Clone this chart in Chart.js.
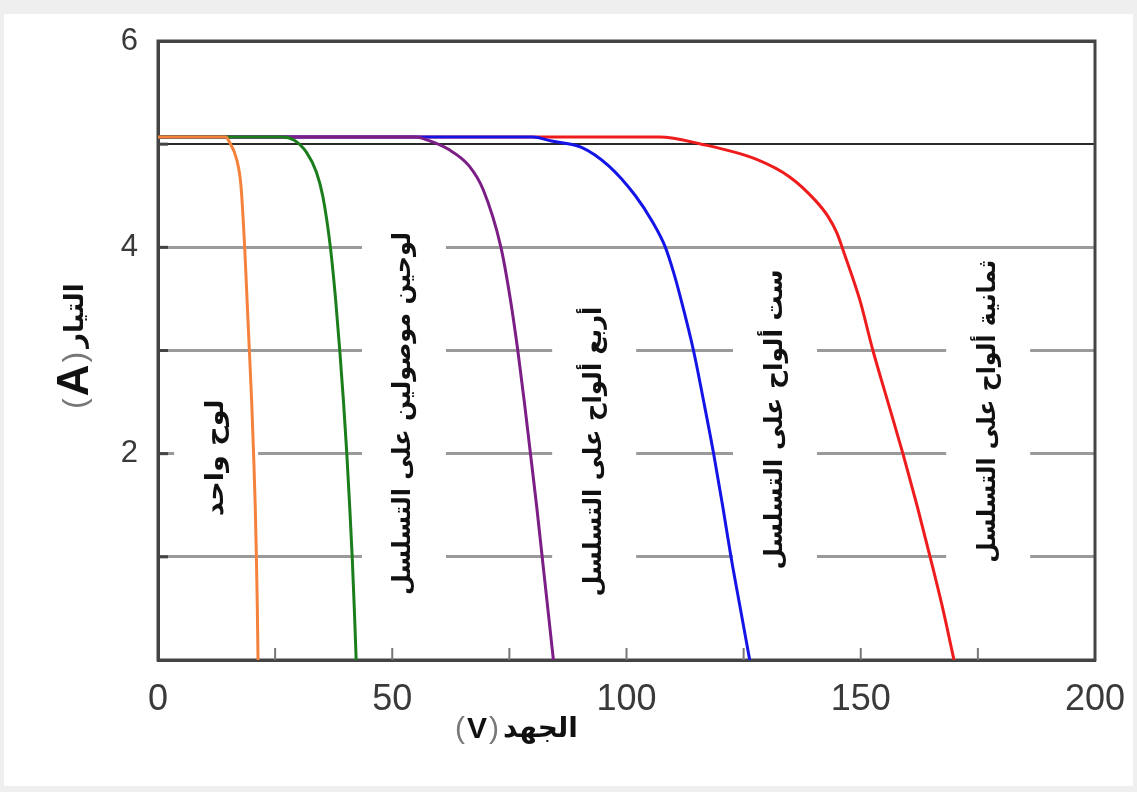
<!DOCTYPE html>
<html>
<head>
<meta charset="utf-8">
<script src="https://cdn.jsdelivr.net/npm/chart.js@4"></script>
<style>
  html, body { margin: 0; padding: 0; background: #efefef; }
  #frame { position: absolute; left: 4px; top: 14px; width: 1129px; height: 772px; background: #fff; }
  #wrap { position: absolute; left: 0; top: 0; width: 1137px; height: 792px; }
</style>
</head>
<body>
<div id="frame"></div>
<div id="wrap"><canvas id="ivChart"></canvas></div>
<script>
// curve names (drawn as rotated labels inside the plot)
const panelLabels = [
  "لوح واحد",
  "لوحين موصولين على التسلسل",
  "أربع ألواح على التسلسل",
  "ست ألواح على التسلسل",
  "ثمانية ألواح على التسلسل"
];

// I-V curves: voltage (V) / current (A)
const voltage1 = [0, 14.5, 15, 16.8, 17.7, 18.5, 19.0, 19.5, 20.0, 20.4, 20.75, 21.0, 21.2, 21.35];
const current1 = [5.07, 5.07, 5.04, 4.85, 4.6, 4.0, 3.5, 3.0, 2.5, 2.0, 1.5, 1.0, 0.5, 0];

const voltage2 = [0, 26.5, 29, 31.7, 33.8, 35.2, 36.8, 37.9, 38.8, 39.6, 40.3, 40.9, 41.45, 41.9, 42.3];
const current2 = [5.07, 5.07, 5.04, 4.92, 4.73, 4.49, 4.0, 3.5, 3.0, 2.5, 2.0, 1.5, 1.0, 0.5, 0];

const voltage4 = [0, 55, 57.5, 62, 66.4, 69.4, 73.2, 75.2, 76.8, 78.2, 79.5, 80.8, 82.0, 83.2, 84.4];
const current4 = [5.07, 5.07, 5.04, 4.95, 4.79, 4.56, 4.0, 3.5, 3.0, 2.5, 2.0, 1.5, 1.0, 0.5, 0];

const voltage6 = [0, 80, 84, 90.4, 96.2, 101.9, 105.5, 108.3, 110.1, 111.6, 114.3, 116.5, 118.6, 120.5, 122.3, 124.3, 126.3];
const current6 = [5.07, 5.07, 5.03, 4.97, 4.79, 4.5, 4.25, 4.0, 3.75, 3.5, 3.0, 2.5, 2.0, 1.5, 1.0, 0.5, 0];

const voltage8 = [0, 107, 116, 127.9, 134.9, 140.2, 143.0, 144.9, 146.4, 149.8, 152.6, 155.8, 159.0, 162.0, 164.8, 167.5, 169.9];
const current8 = [5.07, 5.07, 5.0, 4.85, 4.68, 4.46, 4.3, 4.14, 3.95, 3.49, 3.0, 2.5, 2.0, 1.5, 1.0, 0.5, 0];

const xTickLabels = [0, 50, 100, 150, 200];
const xMinorTicks = [25, 50, 75, 100, 125, 150, 175];
const yTickLabels = [2, 4, 6];
const yInnerTicks = [1, 2, 3, 4, 5];

const seriesV = [voltage1, voltage2, voltage4, voltage6, voltage8];
const seriesI = [current1, current2, current4, current6, current8];
const lineColors = ["#f5823c", "#1b7d1b", "#7b1e86", "#1414e6", "#ee1c1c"];

// where each rotated label sits, in axis units, and its length in px
const labelLayout = [
  { v: 12.4, i: 1.96, len: 117 },
  { v: 52.5, i: 2.39, len: 363 },
  { v: 93.1, i: 2.02, len: 290 },
  { v: 131.7, i: 2.33, len: 300 },
  { v: 177.2, i: 2.41, len: 303 }
];

const arabicFont = '"DejaVu Sans", sans-serif';
const latinFont = '"Liberation Sans", Arial, sans-serif';

function drawRun(ctx, pieces, x0, y0) {
  let xx = x0;
  pieces.forEach(p => {
    ctx.font = p.font;
    ctx.fillStyle = p.color;
    ctx.fillText(p.text, xx, y0);
    xx += ctx.measureText(p.text).width + (p.gap || 0);
  });
}

const decorPlugin = {
  id: 'decor',
  beforeDatasetsDraw(chart) {
    const { ctx, chartArea: a, scales: { x, y } } = chart;
    ctx.save();

    // white boxes behind the labels (they break the grid lines)
    panelLabels.forEach((txt, k) => {
      const L = labelLayout[k];
      const cx = x.getPixelForValue(L.v);
      const cy = y.getPixelForValue(L.i);
      ctx.fillStyle = '#fff';
      ctx.fillRect(cx - 42, cy - L.len / 2 - 8, 84, L.len + 16);

      ctx.save();
      ctx.translate(cx, cy);
      ctx.rotate(-Math.PI / 2);
      ctx.font = 'bold 25px ' + arabicFont;
      ctx.direction = 'rtl';
      ctx.textAlign = 'center';
      ctx.textBaseline = 'middle';
      const w = ctx.measureText(txt).width;
      ctx.scale(L.len / w, 1);
      ctx.fillStyle = '#111';
      ctx.fillText(txt, 0, 0);
      ctx.restore();
    });

    // frame round the plot
    ctx.strokeStyle = '#444';
    ctx.lineWidth = 3;
    ctx.strokeRect(a.left, a.top, a.right - a.left, a.bottom - a.top);

    // small inner ticks
    ctx.strokeStyle = '#777';
    ctx.lineWidth = 2;
    xMinorTicks.forEach(v => {
      const px = x.getPixelForValue(v);
      ctx.beginPath();
      ctx.moveTo(px, a.bottom);
      ctx.lineTo(px, a.bottom - 12);
      ctx.stroke();
    });
    ctx.strokeStyle = '#444';
    ctx.lineWidth = 3;
    yInnerTicks.forEach(v => {
      const py = y.getPixelForValue(v);
      ctx.beginPath();
      ctx.moveTo(a.left, py);
      ctx.lineTo(a.left + 10, py);
      ctx.stroke();
    });
    ctx.restore();
  },
  afterDraw(chart) {
    const ctx = chart.ctx;
    ctx.save();
    ctx.textAlign = 'left';
    ctx.textBaseline = 'middle';

    // x title: (V) الجهد
    drawRun(ctx, [
      { text: '(', font: '30px ' + latinFont, color: '#777', gap: 2 },
      { text: 'V', font: 'bold 30px ' + latinFont, color: '#111', gap: 2 },
      { text: ')', font: '30px ' + latinFont, color: '#777', gap: 4 },
      { text: 'الجهد', font: 'bold 28px ' + arabicFont, color: '#111' }
    ], 455, 730);

    // y title, rotated: (A) التيار
    ctx.translate(76, 409);
    ctx.rotate(-Math.PI / 2);
    drawRun(ctx, [
      { text: '(', font: '32px ' + latinFont, color: '#777', gap: 2 },
      { text: 'A', font: 'bold 44px ' + latinFont, color: '#111', gap: 2 },
      { text: ')', font: '32px ' + latinFont, color: '#777', gap: 4 },
      { text: 'التيار', font: 'bold 26px ' + arabicFont, color: '#111' }
    ], 0, 0);
    ctx.restore();
  }
};

const datasets = seriesV.map((vs, k) => ({
  label: panelLabels[k],
  data: vs.map((v, j) => ({ x: v, y: seriesI[k][j] })),
  borderColor: lineColors[k],
  borderWidth: 3,
  pointRadius: 0,
  fill: false,
  cubicInterpolationMode: 'monotone'
}));

new Chart(document.getElementById('ivChart'), {
  type: 'line',
  data: { datasets: datasets },
  plugins: [decorPlugin],
  options: {
    responsive: true,
    maintainAspectRatio: false,
    animation: false,
    layout: { padding: { top: 41, right: 42, left: 0, bottom: 0 } },
    plugins: { legend: { display: false }, tooltip: { enabled: false } },
    scales: {
      x: {
        type: 'linear',
        min: 0,
        max: 200,
        afterFit: s => { s.height = 132; s.paddingLeft = 0; s.paddingRight = 0; },
        afterBuildTicks: s => { s.ticks = xTickLabels.map(v => ({ value: v })); },
        ticks: {
          color: '#3a3a3a',
          padding: 18,
          font: { family: latinFont, size: 36 },
          maxRotation: 0
        },
        grid: { display: false, drawTicks: false },
        border: { color: '#444', width: 3 }
      },
      y: {
        min: 0,
        max: 6,
        afterFit: s => { s.width = 158; s.paddingTop = 0; s.paddingBottom = 0; },
        ticks: {
          stepSize: 1,
          color: '#3a3a3a',
          padding: 20,
          font: { family: latinFont, size: 31 },
          callback: v => yTickLabels.includes(v) ? String(v) : ''
        },
        grid: {
          drawTicks: false,
          color: c => c.tick.value === 5 ? '#2a2a2a' : (c.tick.value === 6 ? '#444' : '#9a9a9a'),
          lineWidth: c => c.tick.value === 5 ? 2 : 3
        },
        border: { color: '#444', width: 3 }
      }
    }
  }
});
</script>
</body>
</html>
